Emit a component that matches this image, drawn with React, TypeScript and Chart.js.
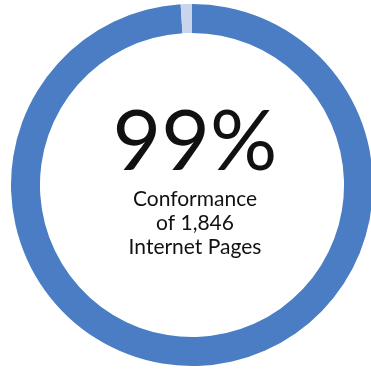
import React, { useEffect, useRef } from "react";
import { Chart, registerables } from "chart.js";

Chart.register(...registerables);

const segmentLabels = ["Conforming", "Non-conforming"];
const segmentValues = [99, 1];
const segmentColors = ["#4a7dc4", "#c8d5ec"];
const headline = "99%";
const captionLines = ["Conformance", "of 1,846", "Internet Pages"];

const centerText = {
  id: "centerText",
  afterDraw(chart: Chart) {
    const { ctx } = chart;
    const meta = chart.getDatasetMeta(0);
    const arc: any = meta.data[0];
    const cx = arc.x + 3;
    const cy = arc.y;
    ctx.save();
    ctx.fillStyle = "#111111";
    ctx.textAlign = "center";
    ctx.textBaseline = "alphabetic";
    ctx.font = "84px Lato, 'Noto Sans', sans-serif";
    ctx.fillText(headline, cx, cy - 15);
    ctx.font = "21px Lato, 'Noto Sans', sans-serif";
    captionLines.forEach((line, i) => {
      ctx.fillText(line, cx, cy + 21 + i * 24);
    });
    ctx.restore();
  },
};

export default function App() {
  const canvasRef = useRef<HTMLCanvasElement | null>(null);

  useEffect(() => {
    if (!canvasRef.current) return;
    const chart = new Chart(canvasRef.current, {
      type: "doughnut",
      data: {
        labels: segmentLabels,
        datasets: [
          {
            data: segmentValues,
            backgroundColor: segmentColors,
            borderWidth: 0,
          },
        ],
      },
      options: {
        animation: false,
        responsive: false,
        cutout: "84%",
        plugins: {
          legend: { display: false },
          tooltip: { enabled: false },
        },
      },
      plugins: [centerText],
    });
    return () => chart.destroy();
  }, []);

  return (
    <div
      style={{
        position: "fixed",
        left: 0,
        top: 0,
        width: 371,
        height: 371,
        overflow: "hidden",
        background: "#ffffff",
      }}
    >
      <canvas
        ref={canvasRef}
        width={362}
        height={362}
        style={{ position: "absolute", left: 11, top: 4, width: 362, height: 362 }}
      />
    </div>
  );
}
